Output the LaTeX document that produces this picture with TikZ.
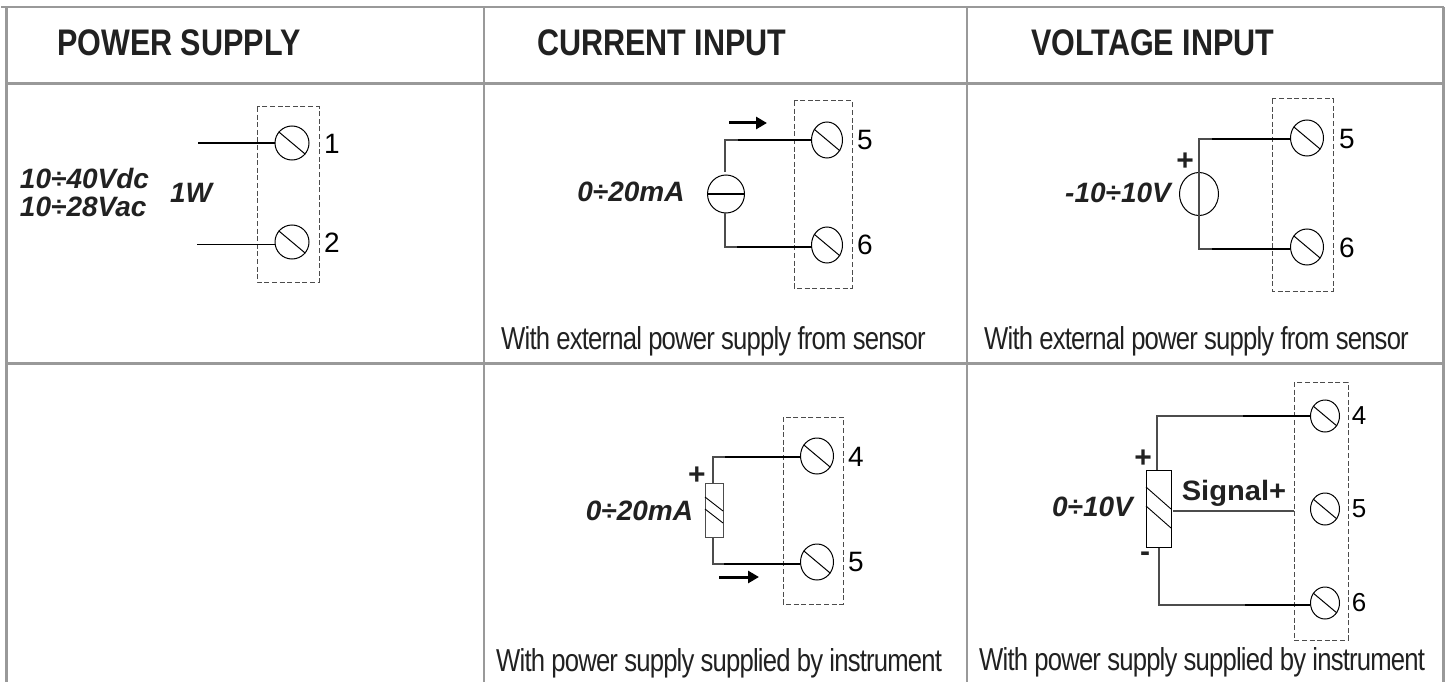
\documentclass[tikz,border=0pt]{standalone}
\usepackage{fontspec}
\setmainfont{Liberation Sans}
\newfontfamily\headf[FakeStretch=0.825]{Liberation Sans Bold}
\newfontfamily\footf[FakeStretch=0.81,LetterSpace=-2.6]{Liberation Sans}
\newfontfamily\labf{Liberation Sans}
\newfontfamily\sigf[FakeStretch=1.04]{Liberation Sans Bold}
\newfontfamily\valf{Liberation Sans Bold Italic}
\newfontfamily\signf{Liberation Sans Bold}
\usetikzlibrary{arrows.meta,shapes.geometric}
\definecolor{grid}{gray}{0.6}
\definecolor{ink}{gray}{0.13}
\tikzset{
 x=1pt,y=-1pt,
 thinrule/.style={draw=grid,line width=2pt},
 thickrule/.style={draw=grid,line width=2.5pt},
 head/.style={font=\headf\fontsize{37}{37}\selectfont,text=ink,anchor=base west,inner sep=0},
 foot/.style={font=\footf\fontsize{31.7}{32}\selectfont,text=ink,anchor=base west,inner sep=0},
 val/.style={font=\valf\fontsize{28}{31}\selectfont,text=ink,inner sep=0,align=left},
 num/.style={font=\labf\fontsize{28}{28}\selectfont,text=black,inner sep=0},
 numsmall/.style={font=\labf\fontsize{26}{26}\selectfont,text=black,inner sep=0},
 sign/.style={font=\signf\fontsize{30}{30}\selectfont,text=ink,inner sep=0},
 dashbox/.style={draw=black!70,line width=1pt,dash pattern=on 5pt off 2.6pt},
 wire/.style={draw=black,line width=1.2pt},
 heavy/.style={draw=black,line width=2pt},
 greywire/.style={draw=black!70,line width=1.2pt},
 term/.style={draw=black,line width=1pt,ellipse,inner sep=0},
 flow/.style={draw=black,line width=3pt,-{Triangle[length=11pt,width=12pt]}},
}
% terminal: name, x, y, rx, ry
\newcommand{\terminal}[5]{%
 \node[term,minimum width=#4*2pt,minimum height=#5*2pt] (#1) at (#2,#3) {};
 \draw[line width=1pt] (#1.140) -- (#1.-40);
}
\begin{document}
\begin{tikzpicture}
\useasboundingbox (0,0) rectangle (1451,682);
% grid
\coordinate (tl) at (1,7); \coordinate (tr) at (1444,7);
\coordinate (lt) at (6.3,7); \coordinate (bl) at (6.3,682);
\coordinate (rt) at (1443.5,7); \coordinate (br) at (1443.5,682);
\coordinate (h1l) at (6,83.5); \coordinate (h1r) at (1444,83.5);
\coordinate (h2l) at (6,363.5); \coordinate (h2r) at (1444,363.5);
\coordinate (v1t) at (484,7); \coordinate (v1b) at (484,682);
\coordinate (v2t) at (967,7); \coordinate (v2b) at (967,682);
\draw[thickrule] (tl) -- (tr);
\draw[thickrule] (lt) -- (bl);
\draw[thickrule] (rt) -- (br);
\draw[thickrule] (h1l) -- (h1r);
\draw[thickrule] (h2l) -- (h2r);
\draw[thinrule] (v1t) -- (v1b);
\draw[thinrule] (v2t) -- (v2b);
% headers
\node[head] (hp) at (57,56) {POWER SUPPLY};
\node[head] (hc) at (537,56) {CURRENT INPUT};
\node[head] (hv) at (1031,56) {VOLTAGE INPUT};
% panel 1
\draw[dashbox] (257,107) rectangle (319,282);
\terminal{a1}{292}{143}{17}{17}
\terminal{a2}{292}{242}{17}{17}
\coordinate (a1e) at (198,143); \coordinate (a2e) at (197,244.5);
\draw[wire] (a1e) -- (a1.west |- a1e);
\draw[wire] (a2e) -- (a2.west |- a2e);
\node[num] (n1) at (332,144) {1};
\node[num] (n2) at (332,243) {2};
\node[val] (v1) at (84.5,192) {10÷40Vdc\\[-3pt]10÷28Vac};
\node[val] (w1) at (191,193) {1W};
% panel 2
\draw[dashbox] (794,101) rectangle (852,288);
\terminal{b1}{827}{140}{15.5}{18}
\terminal{b2}{827}{245}{15.5}{18}
\node[draw=black,line width=1pt,ellipse,minimum width=37pt,minimum height=38pt,inner sep=0] (bs) at (726,194) {};
\draw[line width=1.8pt] (bs.west) -- (bs.east);
\coordinate (bc1) at (725,140); \coordinate (bc2) at (725,247);
\coordinate (bg1) at (738,140); \coordinate (bg2) at (737,247);
\draw[greywire] (725,172) -- (bc1) -- (bg1);
\draw[greywire] (725,213) -- (bc2) -- (bg2);
\draw[heavy] (bg1) -- (b1.west |- bg1);
\draw[heavy] (bg2) -- (b2.west |- bg2);
\coordinate (ba1) at (729,123); \coordinate (ba2) at (767,123);
\draw[flow] (ba1) -- (ba2);
\node[num] (n5) at (865,140) {5};
\node[num] (n6) at (865,245) {6};
\node[val] (v2) at (631,192) {0÷20mA};
\node[foot] (f2) at (501,349) {With external power supply from sensor};
% panel 3
\draw[dashbox] (1272,99) rectangle (1333,291);
\terminal{c1}{1307}{138}{16.5}{18}
\terminal{c2}{1307}{247}{16.5}{18}
\node[draw=black,line width=1pt,ellipse,minimum width=39pt,minimum height=43pt,inner sep=0] (cs) at (1199,194) {};
\coordinate (cc1) at (1199,139); \coordinate (cc2) at (1199,249);
\coordinate (cg1) at (1212,139); \coordinate (cg2) at (1212,249);
\draw[greywire] (cg1) -- (cc1) -- (cc2) -- (cg2);
\draw[heavy] (cg1) -- (c1.west |- cg1);
\draw[heavy] (cg2) -- (c2.west |- cg2);
\node[sign] (cp) at (1185,162) {+};
\node[num] (n5c) at (1347,139) {5};
\node[num] (n6c) at (1347,248) {6};
\node[val] (v3) at (1118,193) {-10÷10V};
\node[foot] (f3) at (984,349) {With external power supply from sensor};
% panel 4
\draw[dashbox] (783,417) rectangle (843,604);
\terminal{d1}{817}{456}{16.5}{18}
\terminal{d2}{817}{562}{16.5}{18}
\node[draw=black!70,line width=1pt,minimum width=18pt,minimum height=54pt,inner sep=0] (dr) at (714,510) {};
\draw[line width=.9pt] (705,497) -- (723,511);
\draw[line width=.9pt] (705,509) -- (723,523);
\coordinate (dc1) at (713,457); \coordinate (dc2) at (713,564);
\coordinate (dg1) at (725,457); \coordinate (dg2) at (724,564);
\draw[greywire] (dr.north -| dc1) -- (dc1) -- (dg1);
\draw[greywire] (dr.south -| dc2) -- (dc2) -- (dg2);
\draw[heavy] (dg1) -- (d1.west |- dg1);
\draw[heavy] (dg2) -- (d2.west |- dg2);
\coordinate (da1) at (719,577); \coordinate (da2) at (759,577);
\draw[flow] (da1) -- (da2);
\node[sign] (dp) at (697,476) {+};
\node[num] (n4d) at (856,457) {4};
\node[num] (n5d) at (856,562) {5};
\node[val] (v4) at (639.5,511) {0÷20mA};
\node[foot] (f4) at (496,671) {With power supply supplied by instrument};
% panel 5
\draw[dashbox] (1294,382) rectangle (1348,640);
\terminal{e1}{1325}{416}{14.5}{16}
\terminal{e2}{1325}{509}{14.5}{16}
\terminal{e3}{1325}{603}{14.5}{16}
\node[draw=black,line width=1pt,minimum width=25pt,minimum height=77pt,inner sep=0] (er) at (1158.5,508.5) {};
\draw[line width=.9pt] (1146,487) -- (1171,509);
\draw[line width=.9pt] (1146,506) -- (1171,528);
\coordinate (ec1) at (1157,416); \coordinate (ec2) at (1159,605);
\coordinate (eg1) at (1243,416); \coordinate (eg2) at (1245,605);
\coordinate (es1) at (1173,511); \coordinate (es2) at (1294,511);
\draw[greywire] (er.north -| ec1) -- (ec1) -- (eg1);
\draw[greywire] (er.south -| ec2) -- (ec2) -- (eg2);
\draw[wire] (eg1) -- (e1.west |- eg1);
\draw[wire] (eg2) -- (e3.west |- eg2);
\draw[greywire] (es1) -- (es2);
\node[sign] (ep) at (1143,459) {+};
\node[sign] (em) at (1145,557) {-};
\node[font=\sigf\fontsize{28}{28}\selectfont,text=ink,inner sep=0] (es) at (1234,493) {Signal+};
\node[numsmall] (n4e) at (1359,416) {4};
\node[numsmall] (n5e) at (1359,509) {5};
\node[numsmall] (n6e) at (1359,603) {6};
\node[val] (v5) at (1092.5,507) {0÷10V};
\node[foot] (f5) at (979,670) {With power supply supplied by instrument};
\end{tikzpicture}
\end{document}
